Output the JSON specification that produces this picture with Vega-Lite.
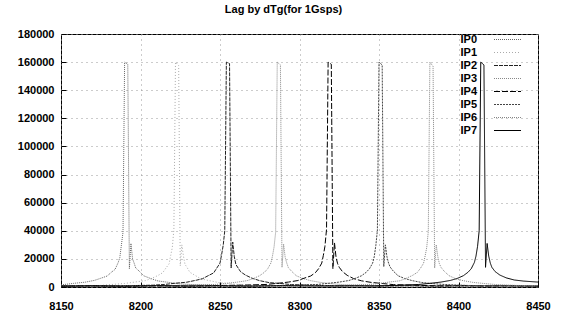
{
"$schema":"https://vega.github.io/schema/vega-lite/v6.json",
"width":477,"height":253,
"autosize":{"type":"none"},
"padding":{"left":61,"top":34,"right":23,"bottom":23},
"background":"white",
"title":{"text":"Lag by dTg(for 1Gsps)","font":"Liberation Sans","fontSize":11,"fontWeight":"bold","color":"black","offset":13,"dx":-16},
"config":{"view":{"stroke":"black","strokeWidth":1},
"axis":{"labelFont":"Liberation Sans","labelFontSize":11,"labelFontWeight":"bold","labelColor":"black","domain":false,"tickColor":"black","tickSize":-5,"grid":true,"gridColor":"#999","gridDash":[1,4],"title":null},
"legend":{"labelFont":"Liberation Sans","labelFontSize":11,"labelFontWeight":"bold","labelColor":"black"}},
"data":{"values":[
{"s":"IP0","x":8150,"y":1500},{"s":"IP0","x":8158,"y":2600},{"s":"IP0","x":8165,"y":3400},{"s":"IP0","x":8171,"y":4700},{"s":"IP0","x":8175,"y":6200},{"s":"IP0","x":8179,"y":7800},{"s":"IP0","x":8182,"y":10800},{"s":"IP0","x":8184,"y":12500},{"s":"IP0","x":8186,"y":17500},{"s":"IP0","x":8187,"y":21000},{"s":"IP0","x":8188,"y":30000},{"s":"IP0","x":8189,"y":39000},{"s":"IP0","x":8190,"y":160000},{"s":"IP0","x":8192,"y":158500},{"s":"IP0","x":8193,"y":13000},{"s":"IP0","x":8194,"y":31000},{"s":"IP0","x":8195,"y":20000},{"s":"IP0","x":8196,"y":17000},{"s":"IP0","x":8197,"y":13500},{"s":"IP0","x":8199,"y":11500},{"s":"IP0","x":8202,"y":8000},{"s":"IP0","x":8206,"y":6200},{"s":"IP0","x":8211,"y":4300},{"s":"IP0","x":8217,"y":3400},{"s":"IP0","x":8224,"y":2300},{"s":"IP0","x":8231,"y":1800},{"s":"IP0","x":8245,"y":1200},{"s":"IP0","x":8260,"y":800},{"s":"IP0","x":8275,"y":1100},{"s":"IP0","x":8290,"y":700},{"s":"IP0","x":8305,"y":900},{"s":"IP0","x":8320,"y":600},{"s":"IP0","x":8335,"y":1000},{"s":"IP0","x":8350,"y":700},{"s":"IP0","x":8365,"y":900},{"s":"IP0","x":8380,"y":600},{"s":"IP0","x":8395,"y":800},{"s":"IP0","x":8410,"y":700},{"s":"IP0","x":8425,"y":900},{"s":"IP0","x":8440,"y":600},{"s":"IP0","x":8450,"y":500},
{"s":"IP1","x":8150,"y":700},{"s":"IP1","x":8165,"y":900},{"s":"IP1","x":8175,"y":1100},{"s":"IP1","x":8183,"y":1900},{"s":"IP1","x":8190,"y":2500},{"s":"IP1","x":8197,"y":3600},{"s":"IP1","x":8203,"y":4500},{"s":"IP1","x":8207,"y":6100},{"s":"IP1","x":8211,"y":8200},{"s":"IP1","x":8214,"y":10200},{"s":"IP1","x":8216,"y":13500},{"s":"IP1","x":8218,"y":16500},{"s":"IP1","x":8219,"y":22500},{"s":"IP1","x":8220,"y":28000},{"s":"IP1","x":8221,"y":41000},{"s":"IP1","x":8222,"y":160000},{"s":"IP1","x":8224,"y":157500},{"s":"IP1","x":8225,"y":15000},{"s":"IP1","x":8226,"y":30000},{"s":"IP1","x":8227,"y":22000},{"s":"IP1","x":8228,"y":16000},{"s":"IP1","x":8229,"y":14500},{"s":"IP1","x":8231,"y":10500},{"s":"IP1","x":8234,"y":8500},{"s":"IP1","x":8238,"y":5800},{"s":"IP1","x":8243,"y":4600},{"s":"IP1","x":8249,"y":3200},{"s":"IP1","x":8256,"y":2500},{"s":"IP1","x":8263,"y":1600},{"s":"IP1","x":8278,"y":1100},{"s":"IP1","x":8293,"y":800},{"s":"IP1","x":8308,"y":1000},{"s":"IP1","x":8323,"y":700},{"s":"IP1","x":8338,"y":900},{"s":"IP1","x":8353,"y":600},{"s":"IP1","x":8368,"y":800},{"s":"IP1","x":8383,"y":700},{"s":"IP1","x":8398,"y":900},{"s":"IP1","x":8413,"y":600},{"s":"IP1","x":8428,"y":800},{"s":"IP1","x":8450,"y":600},
{"s":"IP2","x":8150,"y":600},{"s":"IP2","x":8165,"y":800},{"s":"IP2","x":8180,"y":700},{"s":"IP2","x":8195,"y":1000},{"s":"IP2","x":8208,"y":1300},{"s":"IP2","x":8215,"y":1800},{"s":"IP2","x":8222,"y":2700},{"s":"IP2","x":8229,"y":3400},{"s":"IP2","x":8235,"y":4800},{"s":"IP2","x":8239,"y":5900},{"s":"IP2","x":8243,"y":8300},{"s":"IP2","x":8246,"y":10000},{"s":"IP2","x":8248,"y":13500},{"s":"IP2","x":8250,"y":17000},{"s":"IP2","x":8251,"y":23000},{"s":"IP2","x":8252,"y":29500},{"s":"IP2","x":8253,"y":40000},{"s":"IP2","x":8254,"y":160000},{"s":"IP2","x":8256,"y":159000},{"s":"IP2","x":8257,"y":13500},{"s":"IP2","x":8258,"y":32000},{"s":"IP2","x":8259,"y":21500},{"s":"IP2","x":8260,"y":16000},{"s":"IP2","x":8261,"y":14200},{"s":"IP2","x":8263,"y":10800},{"s":"IP2","x":8266,"y":8500},{"s":"IP2","x":8270,"y":6300},{"s":"IP2","x":8275,"y":4500},{"s":"IP2","x":8281,"y":3100},{"s":"IP2","x":8288,"y":2500},{"s":"IP2","x":8295,"y":1700},{"s":"IP2","x":8310,"y":1200},{"s":"IP2","x":8325,"y":800},{"s":"IP2","x":8340,"y":1000},{"s":"IP2","x":8355,"y":700},{"s":"IP2","x":8370,"y":900},{"s":"IP2","x":8385,"y":600},{"s":"IP2","x":8400,"y":800},{"s":"IP2","x":8415,"y":700},{"s":"IP2","x":8430,"y":900},{"s":"IP2","x":8450,"y":600},
{"s":"IP3","x":8150,"y":800},{"s":"IP3","x":8165,"y":600},{"s":"IP3","x":8180,"y":900},{"s":"IP3","x":8195,"y":700},{"s":"IP3","x":8210,"y":800},{"s":"IP3","x":8227,"y":1200},{"s":"IP3","x":8247,"y":1800},{"s":"IP3","x":8254,"y":2600},{"s":"IP3","x":8261,"y":3500},{"s":"IP3","x":8267,"y":4500},{"s":"IP3","x":8271,"y":6000},{"s":"IP3","x":8275,"y":8100},{"s":"IP3","x":8278,"y":10500},{"s":"IP3","x":8280,"y":13000},{"s":"IP3","x":8282,"y":17000},{"s":"IP3","x":8283,"y":22000},{"s":"IP3","x":8284,"y":28500},{"s":"IP3","x":8285,"y":39000},{"s":"IP3","x":8286,"y":160000},{"s":"IP3","x":8288,"y":158000},{"s":"IP3","x":8289,"y":14000},{"s":"IP3","x":8290,"y":30500},{"s":"IP3","x":8291,"y":21000},{"s":"IP3","x":8292,"y":17000},{"s":"IP3","x":8293,"y":13800},{"s":"IP3","x":8295,"y":11200},{"s":"IP3","x":8298,"y":8000},{"s":"IP3","x":8302,"y":6100},{"s":"IP3","x":8307,"y":4500},{"s":"IP3","x":8313,"y":3300},{"s":"IP3","x":8320,"y":2400},{"s":"IP3","x":8327,"y":1700},{"s":"IP3","x":8342,"y":1100},{"s":"IP3","x":8357,"y":800},{"s":"IP3","x":8372,"y":1000},{"s":"IP3","x":8387,"y":700},{"s":"IP3","x":8402,"y":900},{"s":"IP3","x":8417,"y":600},{"s":"IP3","x":8432,"y":800},{"s":"IP3","x":8450,"y":700},
{"s":"IP4","x":8150,"y":700},{"s":"IP4","x":8170,"y":900},{"s":"IP4","x":8190,"y":600},{"s":"IP4","x":8210,"y":800},{"s":"IP4","x":8230,"y":700},{"s":"IP4","x":8245,"y":1000},{"s":"IP4","x":8264,"y":1300},{"s":"IP4","x":8279,"y":1800},{"s":"IP4","x":8286,"y":2600},{"s":"IP4","x":8293,"y":3500},{"s":"IP4","x":8299,"y":4600},{"s":"IP4","x":8303,"y":6300},{"s":"IP4","x":8307,"y":7800},{"s":"IP4","x":8310,"y":10200},{"s":"IP4","x":8312,"y":13000},{"s":"IP4","x":8314,"y":17000},{"s":"IP4","x":8315,"y":22500},{"s":"IP4","x":8316,"y":29000},{"s":"IP4","x":8317,"y":41000},{"s":"IP4","x":8318,"y":160000},{"s":"IP4","x":8320,"y":158500},{"s":"IP4","x":8321,"y":13000},{"s":"IP4","x":8322,"y":31500},{"s":"IP4","x":8323,"y":21000},{"s":"IP4","x":8324,"y":16500},{"s":"IP4","x":8325,"y":14000},{"s":"IP4","x":8327,"y":11000},{"s":"IP4","x":8330,"y":8300},{"s":"IP4","x":8334,"y":6000},{"s":"IP4","x":8339,"y":4400},{"s":"IP4","x":8345,"y":3300},{"s":"IP4","x":8352,"y":2500},{"s":"IP4","x":8359,"y":1700},{"s":"IP4","x":8374,"y":1200},{"s":"IP4","x":8389,"y":800},{"s":"IP4","x":8404,"y":1000},{"s":"IP4","x":8419,"y":700},{"s":"IP4","x":8434,"y":900},{"s":"IP4","x":8450,"y":600},
{"s":"IP5","x":8150,"y":600},{"s":"IP5","x":8170,"y":800},{"s":"IP5","x":8190,"y":700},{"s":"IP5","x":8210,"y":900},{"s":"IP5","x":8230,"y":600},{"s":"IP5","x":8250,"y":800},{"s":"IP5","x":8265,"y":700},{"s":"IP5","x":8281,"y":800},{"s":"IP5","x":8296,"y":1200},{"s":"IP5","x":8311,"y":1800},{"s":"IP5","x":8318,"y":2600},{"s":"IP5","x":8325,"y":3500},{"s":"IP5","x":8331,"y":4600},{"s":"IP5","x":8335,"y":6100},{"s":"IP5","x":8339,"y":8000},{"s":"IP5","x":8342,"y":10500},{"s":"IP5","x":8344,"y":13000},{"s":"IP5","x":8346,"y":17000},{"s":"IP5","x":8347,"y":21500},{"s":"IP5","x":8348,"y":29500},{"s":"IP5","x":8349,"y":40500},{"s":"IP5","x":8350,"y":160000},{"s":"IP5","x":8352,"y":158000},{"s":"IP5","x":8353,"y":14500},{"s":"IP5","x":8354,"y":30000},{"s":"IP5","x":8355,"y":21500},{"s":"IP5","x":8356,"y":17000},{"s":"IP5","x":8357,"y":14200},{"s":"IP5","x":8359,"y":11300},{"s":"IP5","x":8362,"y":8000},{"s":"IP5","x":8366,"y":6100},{"s":"IP5","x":8371,"y":4500},{"s":"IP5","x":8377,"y":3200},{"s":"IP5","x":8384,"y":2400},{"s":"IP5","x":8391,"y":1800},{"s":"IP5","x":8406,"y":1100},{"s":"IP5","x":8421,"y":900},{"s":"IP5","x":8436,"y":700},{"s":"IP5","x":8450,"y":800},
{"s":"IP6","x":8150,"y":700},{"s":"IP6","x":8170,"y":600},{"s":"IP6","x":8190,"y":800},{"s":"IP6","x":8210,"y":700},{"s":"IP6","x":8230,"y":900},{"s":"IP6","x":8250,"y":600},{"s":"IP6","x":8270,"y":800},{"s":"IP6","x":8290,"y":700},{"s":"IP6","x":8310,"y":900},{"s":"IP6","x":8328,"y":1100},{"s":"IP6","x":8343,"y":1700},{"s":"IP6","x":8350,"y":2500},{"s":"IP6","x":8357,"y":3600},{"s":"IP6","x":8363,"y":4400},{"s":"IP6","x":8367,"y":6100},{"s":"IP6","x":8371,"y":8200},{"s":"IP6","x":8374,"y":10300},{"s":"IP6","x":8376,"y":13200},{"s":"IP6","x":8378,"y":16800},{"s":"IP6","x":8379,"y":22000},{"s":"IP6","x":8380,"y":28000},{"s":"IP6","x":8381,"y":39500},{"s":"IP6","x":8382,"y":160000},{"s":"IP6","x":8384,"y":157000},{"s":"IP6","x":8385,"y":13500},{"s":"IP6","x":8386,"y":30000},{"s":"IP6","x":8387,"y":21500},{"s":"IP6","x":8388,"y":16500},{"s":"IP6","x":8389,"y":14000},{"s":"IP6","x":8391,"y":11200},{"s":"IP6","x":8394,"y":8100},{"s":"IP6","x":8398,"y":6000},{"s":"IP6","x":8403,"y":4500},{"s":"IP6","x":8409,"y":3300},{"s":"IP6","x":8416,"y":2500},{"s":"IP6","x":8423,"y":1800},{"s":"IP6","x":8437,"y":1100},{"s":"IP6","x":8450,"y":900},
{"s":"IP7","x":8150,"y":600},{"s":"IP7","x":8170,"y":800},{"s":"IP7","x":8190,"y":600},{"s":"IP7","x":8210,"y":900},{"s":"IP7","x":8230,"y":700},{"s":"IP7","x":8250,"y":800},{"s":"IP7","x":8270,"y":600},{"s":"IP7","x":8290,"y":900},{"s":"IP7","x":8310,"y":700},{"s":"IP7","x":8330,"y":800},{"s":"IP7","x":8345,"y":700},{"s":"IP7","x":8360,"y":1100},{"s":"IP7","x":8375,"y":1800},{"s":"IP7","x":8382,"y":2600},{"s":"IP7","x":8389,"y":3500},{"s":"IP7","x":8395,"y":4700},{"s":"IP7","x":8399,"y":6000},{"s":"IP7","x":8403,"y":8000},{"s":"IP7","x":8406,"y":10500},{"s":"IP7","x":8408,"y":13000},{"s":"IP7","x":8410,"y":17500},{"s":"IP7","x":8411,"y":22000},{"s":"IP7","x":8412,"y":29000},{"s":"IP7","x":8413,"y":40000},{"s":"IP7","x":8414,"y":160000},{"s":"IP7","x":8416,"y":158000},{"s":"IP7","x":8417,"y":14000},{"s":"IP7","x":8418,"y":31000},{"s":"IP7","x":8419,"y":22000},{"s":"IP7","x":8420,"y":17000},{"s":"IP7","x":8421,"y":14000},{"s":"IP7","x":8423,"y":11000},{"s":"IP7","x":8426,"y":8500},{"s":"IP7","x":8430,"y":6500},{"s":"IP7","x":8435,"y":5000},{"s":"IP7","x":8441,"y":4200},{"s":"IP7","x":8450,"y":3500}
]},
"mark":{"type":"line","strokeWidth":1},
"encoding":{
"x":{"field":"x","type":"quantitative","scale":{"domain":[8150,8450],"nice":false,"zero":false},"axis":{"values":[8150,8200,8250,8300,8350,8400,8450],"format":"d","labelPadding":18,"labelFlush":false}},
"y":{"field":"y","type":"quantitative","scale":{"domain":[0,180000],"nice":false},"axis":{"values":[0,20000,40000,60000,80000,100000,120000,140000,160000,180000],"format":"d","labelPadding":12}},
"color":{"field":"s","type":"nominal","scale":{"domain":["IP0","IP1","IP2","IP3","IP4","IP5","IP6","IP7"],"range":["#666666","#aaaaaa","#222222","#888888","#000000","#444444","#888888","#000000"]},
"legend":{"orient":"none","legendX":441,"legendY":0,"title":null,"symbolType":"M-3,0H3","symbolSize":81,"symbolStrokeWidth":1,"labelAlign":"right","labelOffset":-36,"rowPadding":1,"padding":0}},
"strokeDash":{"field":"s","type":"nominal","scale":{"domain":["IP0","IP1","IP2","IP3","IP4","IP5","IP6","IP7"],"range":[[1,1],[1,2],[4,1],[1,1],[6,2],[2,1],[1,1],[1,0]]}},
"order":{"field":"x","type":"quantitative"}
}
}
